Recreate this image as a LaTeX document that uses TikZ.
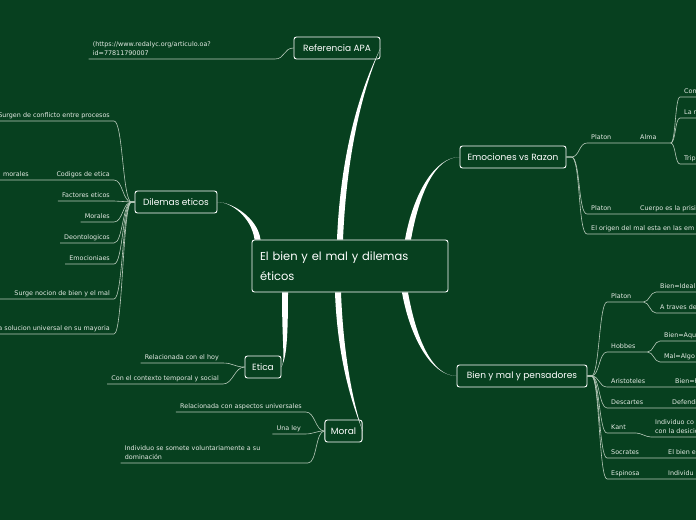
\documentclass[tikz,border=0pt]{standalone}
\usepackage{fontspec}
\newfontfamily\leaffont{DejaVu Sans}
\newfontfamily\topicfont{Poppins}
\usetikzlibrary{calc}
\definecolor{bg}{HTML}{07401F}
\definecolor{twigcol}{HTML}{B7C9BA}
\definecolor{leafcol}{HTML}{E4EAE4}

\begin{document}
\begin{tikzpicture}[
    x=1pt, y=-1pt,
    topic/.style = {draw=white, line width=0.9pt, rounded corners=2.5pt, fill=bg, text=white,
                    font=\topicfont\fontsize{9}{11}\selectfont, minimum height=22pt, inner xsep=6pt},
    leaftxt/.style = {text=leafcol, font=\leaffont\fontsize{6.4}{9}\selectfont,
                      inner xsep=4pt, inner ysep=2pt, text depth=1.2pt},
    twolines/.style = {align=left, text depth=, inner ysep=3pt},
    leftleaf/.style = {leaftxt, anchor=south east},
    rightleaf/.style = {leaftxt, anchor=south west},
    twig/.style = {twigcol, line width=0.6pt},
    trunk/.style = {white},
]

% fondo
\fill[bg] (0,0) rectangle (696,520);
\useasboundingbox (0,0) rectangle (696,520);

% Tema central
\node[topic, minimum width=196pt, minimum height=52pt, text width=180pt, align=left,
      font=\topicfont\fontsize{11.5}{20}\selectfont]
     (central) at (350,266) {El bien y el mal y dilemas\\éticos};

% Temas principales
\node[topic, minimum width=86pt]  (ref)   at (337,48)    {Referencia APA};
\node[topic, minimum width=82pt]  (dil)   at (176,202)   {Dilemas eticos};
\node[topic, minimum width=106pt] (emo)   at (513,157)   {Emociones vs Razon};
\node[topic, minimum width=130pt] (bien)  at (522,376)   {Bien y mal y pensadores};
\node[topic, minimum width=36pt]  (etica) at (263,367)   {Etica};
\node[topic, minimum width=37pt]  (moral) at (343.5,431) {Moral};

% Ramas gruesas
\fill[trunk] ($(central.north)+(-13,0)$) .. controls +(5,-120) and +(-4,10) .. (ref.east)
             .. controls +(-4,10) and +(5,-120) .. ($(central.north)+(-7,0)$) -- cycle;
\fill[trunk] ($(central.north west)+(3,0)$) .. controls +(-3,-22) and +(14,0) .. (dil.east)
             .. controls +(14,0) and +(-3,-22) .. ($(central.north west)+(9,0)$) -- cycle;
\fill[trunk] ($(central.north)+(55,0)$) .. controls +(8,-45) and +(-25,0) .. (emo.west)
             .. controls +(-25,0) and +(8,-45) .. ($(central.north)+(61,0)$) -- cycle;
\fill[trunk] ($(central.south)+(52,0)$) .. controls +(8,45) and +(-25,0) .. (bien.west)
             .. controls +(-25,0) and +(8,45) .. ($(central.south)+(58,0)$) -- cycle;
\fill[trunk] ($(central.south)+(-68,0)$) .. controls +(0,55) and +(4,-8) .. (etica.east)
             .. controls +(4,-8) and +(0,55) .. ($(central.south)+(-62,0)$) -- cycle;
\fill[trunk] ($(central.south)+(-15,0)$) .. controls +(3,80) and +(-4,-12) .. (moral.east)
             .. controls +(-4,-12) and +(3,80) .. ($(central.south)+(-9,0)$) -- cycle;

% Referencia APA
\node[leftleaf, twolines, text width=178pt] (apa) at (275,59)
     {(https://www.redalyc.org/articulo.oa?\\id=77811790007};
\draw[twig] (ref.west) .. controls +(-10,0) and +(10,0) .. (apa.south east) -- (apa.south west);

% Dilemas eticos
\node[leftleaf] (d1)  at (114,121) {Surgen de conflicto entre procesos};
\node[leftleaf] (d2)  at (114,180) {Codigos de etica};
\node[leftleaf] (d2a) at (33,180)  {morales};
\node[leftleaf] (d3)  at (114,201) {Factores eticos};
\node[leftleaf] (d4)  at (114,222) {Morales};
\node[leftleaf] (d5)  at (114,243) {Deontologicos};
\node[leftleaf] (d6)  at (114,264) {Emocioniaes};
\node[leftleaf] (d7)  at (114,299) {Surge nocion de bien y el mal};
\node[leftleaf] (d8)  at (114,334) {a solucion universal en su mayoria};

\draw[twig] (dil.west) -- ++(-3,0) .. controls +(-9,0) and +(9,0) .. (d1.south east) -- (d1.south west);
\draw[twig] (dil.west) -- ++(-3,0) .. controls +(-9,0) and +(9,0) .. (d2.south east) -- (d2.south west)
            -- (d2a.south east) -- (d2a.south west);
\draw[twig] (dil.west) -- ++(-3,0) .. controls +(-9,0) and +(9,0) .. (d3.south east) -- (d3.south west);
\draw[twig] (dil.west) -- ++(-3,0) .. controls +(-9,0) and +(9,0) .. (d4.south east) -- (d4.south west);
\draw[twig] (dil.west) -- ++(-3,0) .. controls +(-9,0) and +(9,0) .. (d5.south east) -- (d5.south west);
\draw[twig] (dil.west) -- ++(-3,0) .. controls +(-9,0) and +(9,0) .. (d6.south east) -- (d6.south west);
\draw[twig] (dil.west) -- ++(-3,0) .. controls +(-9,0) and +(9,0) .. (d7.south east) -- (d7.south west)
            -- ++(-30,0);
\draw[twig] (dil.west) -- ++(-3,0) .. controls +(-9,0) and +(9,0) .. (d8.south east) -- (d8.south west);

% Etica
\node[leftleaf] (e1) at (223,363) {Relacionada con el hoy};
\node[leftleaf] (e2) at (223,384) {Con el contexto temporal y social};
\draw[twig] (etica.west) .. controls +(-10,0) and +(10,0) .. (e1.south east) -- (e1.south west);
\draw[twig] (etica.west) .. controls +(-10,0) and +(10,0) .. (e2.south east) -- (e2.south west);

% Moral
\node[leftleaf] (m1) at (306,412) {Relacionada con aspectos universales};
\node[leftleaf] (m2) at (305,434) {Una ley};
\node[leftleaf, twolines, text width=179pt] (m3) at (308,463)
     {Individuo se somete voluntariamente a su\\dominación};
\draw[twig] (moral.west) .. controls +(-9,0) and +(9,0) .. (m1.south east) -- (m1.south west);
\draw[twig] (moral.west) .. controls +(-9,0) and +(9,0) .. (m2.south east) -- (m2.south west);
\draw[twig] (moral.west) .. controls +(-9,0) and +(9,0) .. (m3.south east) -- (m3.south west);

% Emociones vs Razon
\node[rightleaf] (p1)     at (587,143) {Platon};
\node[rightleaf] (alma)   at (636,143) {Alma};
\node[rightleaf] (a1)     at (680,97)  {Con};
\node[rightleaf] (a2)     at (680,118) {La r};
\node[rightleaf] (a3)     at (680,164) {Trip};
\node[rightleaf] (p2)     at (587,214) {Platon};
\node[rightleaf] (cuerpo) at (636,214) {Cuerpo es la prisi};
\node[rightleaf] (origen) at (587,234) {El origen del mal esta en las em};

\draw[twig] (emo.east) -- ++(5,0) .. controls +(8,0) and +(-8,0) .. (p1.south west) -- (p1.south east)
            -- (alma.south west) -- (alma.south east) -- ++(10,0) coordinate (stem);
\draw[twig] (stem) .. controls +(5,0) and +(-5,0) .. (a1.south west) -- (a1.south east);
\draw[twig] (stem) .. controls +(5,0) and +(-5,0) .. (a2.south west) -- (a2.south east);
\draw[twig] (stem) .. controls +(5,0) and +(-5,0) .. (a3.south west) -- (a3.south east);
\draw[twig] (emo.east) -- ++(5,0) .. controls +(9,0) and +(-9,0) .. (p2.south west) -- (p2.south east)
            -- (cuerpo.south west) -- (cuerpo.south east);
\draw[twig] (emo.east) -- ++(5,0) .. controls +(9,0) and +(-9,0) .. (origen.south west) -- (origen.south east);

% Bien y mal y pensadores
\node[rightleaf] (b1)  at (607,302) {Platon};
\node[rightleaf] (b1a) at (656,292) {Bien=Ideal};
\node[rightleaf] (b1b) at (656,313) {A traves de};
\node[rightleaf] (b2)  at (607,352) {Hobbes};
\node[rightleaf] (b2a) at (660,341) {Bien=Aqu};
\node[rightleaf] (b2b) at (660,362) {Mal=Algo};
\node[rightleaf] (b3)  at (607,387) {Aristoteles};
\node[rightleaf] (b3a) at (671,387) {Bien=F};
\node[rightleaf] (b4)  at (607,408) {Descartes};
\node[rightleaf] (b4a) at (668,408) {Defendi};
\node[rightleaf] (b5)  at (607,433) {Kant};
\node[rightleaf, twolines] (b5a) at (651,437) {Individuo co\\con la desicio};
\node[rightleaf] (b6)  at (607,458) {Socrates};
\node[rightleaf] (b6a) at (664,458) {El bien e};
\node[rightleaf] (b7)  at (607,479) {Espinosa};
\node[rightleaf] (b7a) at (664,479) {Individu};

\draw[twig] (bien.east) -- ++(4,0) .. controls +(8,0) and +(-8,0) .. (b1.south west) -- (b1.south east)
            -- ++(8,0) coordinate (b1end);
\draw[twig] (b1end) .. controls +(6,0) and +(-6,0) .. (b1a.south west) -- (b1a.south east);
\draw[twig] (b1end) .. controls +(6,0) and +(-6,0) .. (b1b.south west) -- (b1b.south east);
\draw[twig] (bien.east) -- ++(4,0) .. controls +(8,0) and +(-8,0) .. (b2.south west) -- (b2.south east)
            -- ++(8,0) coordinate (b2end);
\draw[twig] (b2end) .. controls +(6,0) and +(-6,0) .. (b2a.south west) -- (b2a.south east);
\draw[twig] (b2end) .. controls +(6,0) and +(-6,0) .. (b2b.south west) -- (b2b.south east);
\draw[twig] (bien.east) -- ++(4,0) .. controls +(8,0) and +(-8,0) .. (b3.south west) -- (b3.south east)
            -- (b3a.south west) -- (b3a.south east);
\draw[twig] (bien.east) -- ++(4,0) .. controls +(8,0) and +(-8,0) .. (b4.south west) -- (b4.south east)
            -- (b4a.south west) -- (b4a.south east);
\draw[twig] (bien.east) -- ++(4,0) .. controls +(8,0) and +(-8,0) .. (b5.south west) -- (b5.south east)
            -- ++(6,0) .. controls +(5,0) and +(-5,0) .. (b5a.south west) -- (b5a.south east);
\draw[twig] (bien.east) -- ++(4,0) .. controls +(8,0) and +(-8,0) .. (b6.south west) -- (b6.south east)
            -- (b6a.south west) -- (b6a.south east);
\draw[twig] (bien.east) -- ++(4,0) .. controls +(8,0) and +(-8,0) .. (b7.south west) -- (b7.south east)
            -- (b7a.south west) -- (b7a.south east);

\end{tikzpicture}
\end{document}
